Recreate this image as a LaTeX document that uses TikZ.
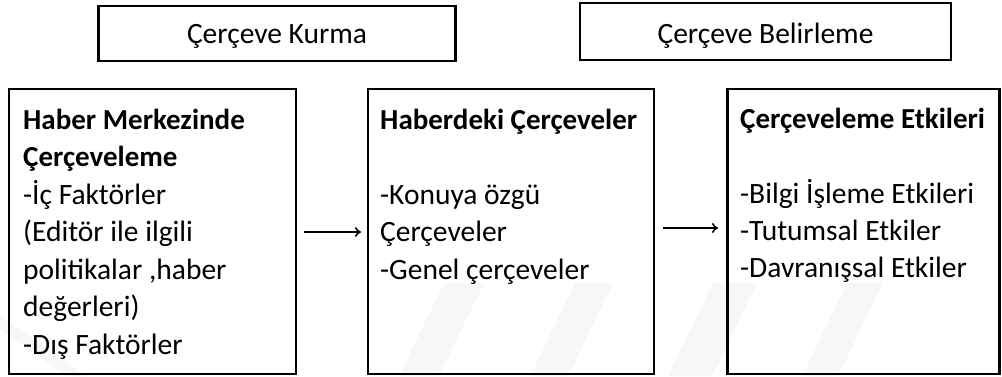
\documentclass[tikz,border=0pt]{standalone}
\usepackage{fontspec}
\setmainfont{Carlito}
\usetikzlibrary{arrows.meta}
\begin{document}
\begin{tikzpicture}[x=1pt,y=-1pt,
  box/.style={draw=black,line width=2.4pt,inner sep=0pt},
  toplbl/.style={font=\fontsize{29.5}{35}\selectfont,anchor=base},
  hd/.style={font=\fontsize{29}{35}\selectfont\bfseries,anchor=base west,inner sep=0pt},
  ln/.style={font=\fontsize{29.5}{35}\selectfont,anchor=base west,inner sep=0pt},
  conn/.style={line width=1.6pt,-{To[length=6pt,width=10pt]}},
  wm/.style={fill=black!3,draw=none}]
\useasboundingbox (0,0) rectangle (1002,376);
% faint watermark bands
\fill[wm] (0,316) -- (87,376) -- (67,376) -- (0,330) -- cycle;
\fill[wm] (444,283) -- (484,283) -- (439,376) -- (399,376) -- cycle;
\fill[wm] (575,283) -- (613,283) -- (568,376) -- (530,376) -- cycle;
\fill[wm] (713,283) -- (757,283) -- (712,376) -- (668,376) -- cycle;
\fill[wm] (847,283) -- (883,283) -- (838,376) -- (802,376) -- cycle;
% top boxes
\node[box,minimum width=357pt,minimum height=55pt] (kurma) at (277,33.5) {};
\node[toplbl] (kurmat) at (277,43) {Çerçeve Kurma};
\node[box,minimum width=371pt,minimum height=57pt] (belir) at (765.5,31.5) {};
\node[toplbl] (belirt) at (765.5,43) {Çerçeve Belirleme};
% main boxes
\node[box,minimum width=287pt,minimum height=285pt] (b1) at (152.5,231.5) {};
\node[box,minimum width=286pt,minimum height=285pt] (b2) at (511,231.5) {};
\node[box,minimum width=272pt,minimum height=285pt] (b3) at (863.5,231.5) {};
% box 1 text
\node[hd] (t11) at (23,129) {Haber Merkezinde};
\node[hd] (t12) at (23,166.5) {Çerçeveleme};
\node[ln] (t13) at (23,204) {-İç Faktörler};
\node[ln] (t14) at (23,241.5) {(Editör ile ilgili};
\node[ln] (t15) at (23,279) {politikalar ,haber};
\node[ln] (t16) at (23,316.5) {değerleri)};
\node[ln] (t17) at (23,354) {-Dış Faktörler};
% box 2 text
\node[hd] (t21) at (380,129) {Haberdeki Çerçeveler};
\node[ln] (t22) at (380,204) {-Konuya özgü};
\node[ln] (t23) at (380,241.5) {Çerçeveler};
\node[ln] (t24) at (380,279) {-Genel çerçeveler};
% box 3 text
\node[hd] (t31) at (740,128) {Çerçeveleme Etkileri};
\node[ln] (t32) at (740,203) {-Bilgi İşleme Etkileri};
\node[ln] (t33) at (740,240) {-Tutumsal Etkiler};
\node[ln] (t34) at (740,277) {-Davranışsal Etkiler};
% connectors
\coordinate (a1s) at (304,232);
\coordinate (a1e) at (361,232);
\coordinate (a2s) at (663,228);
\coordinate (a2e) at (718,228);
\draw[conn] (a1s) -- (a1e);
\draw[conn] (a2s) -- (a2e);
\end{tikzpicture}
\end{document}
